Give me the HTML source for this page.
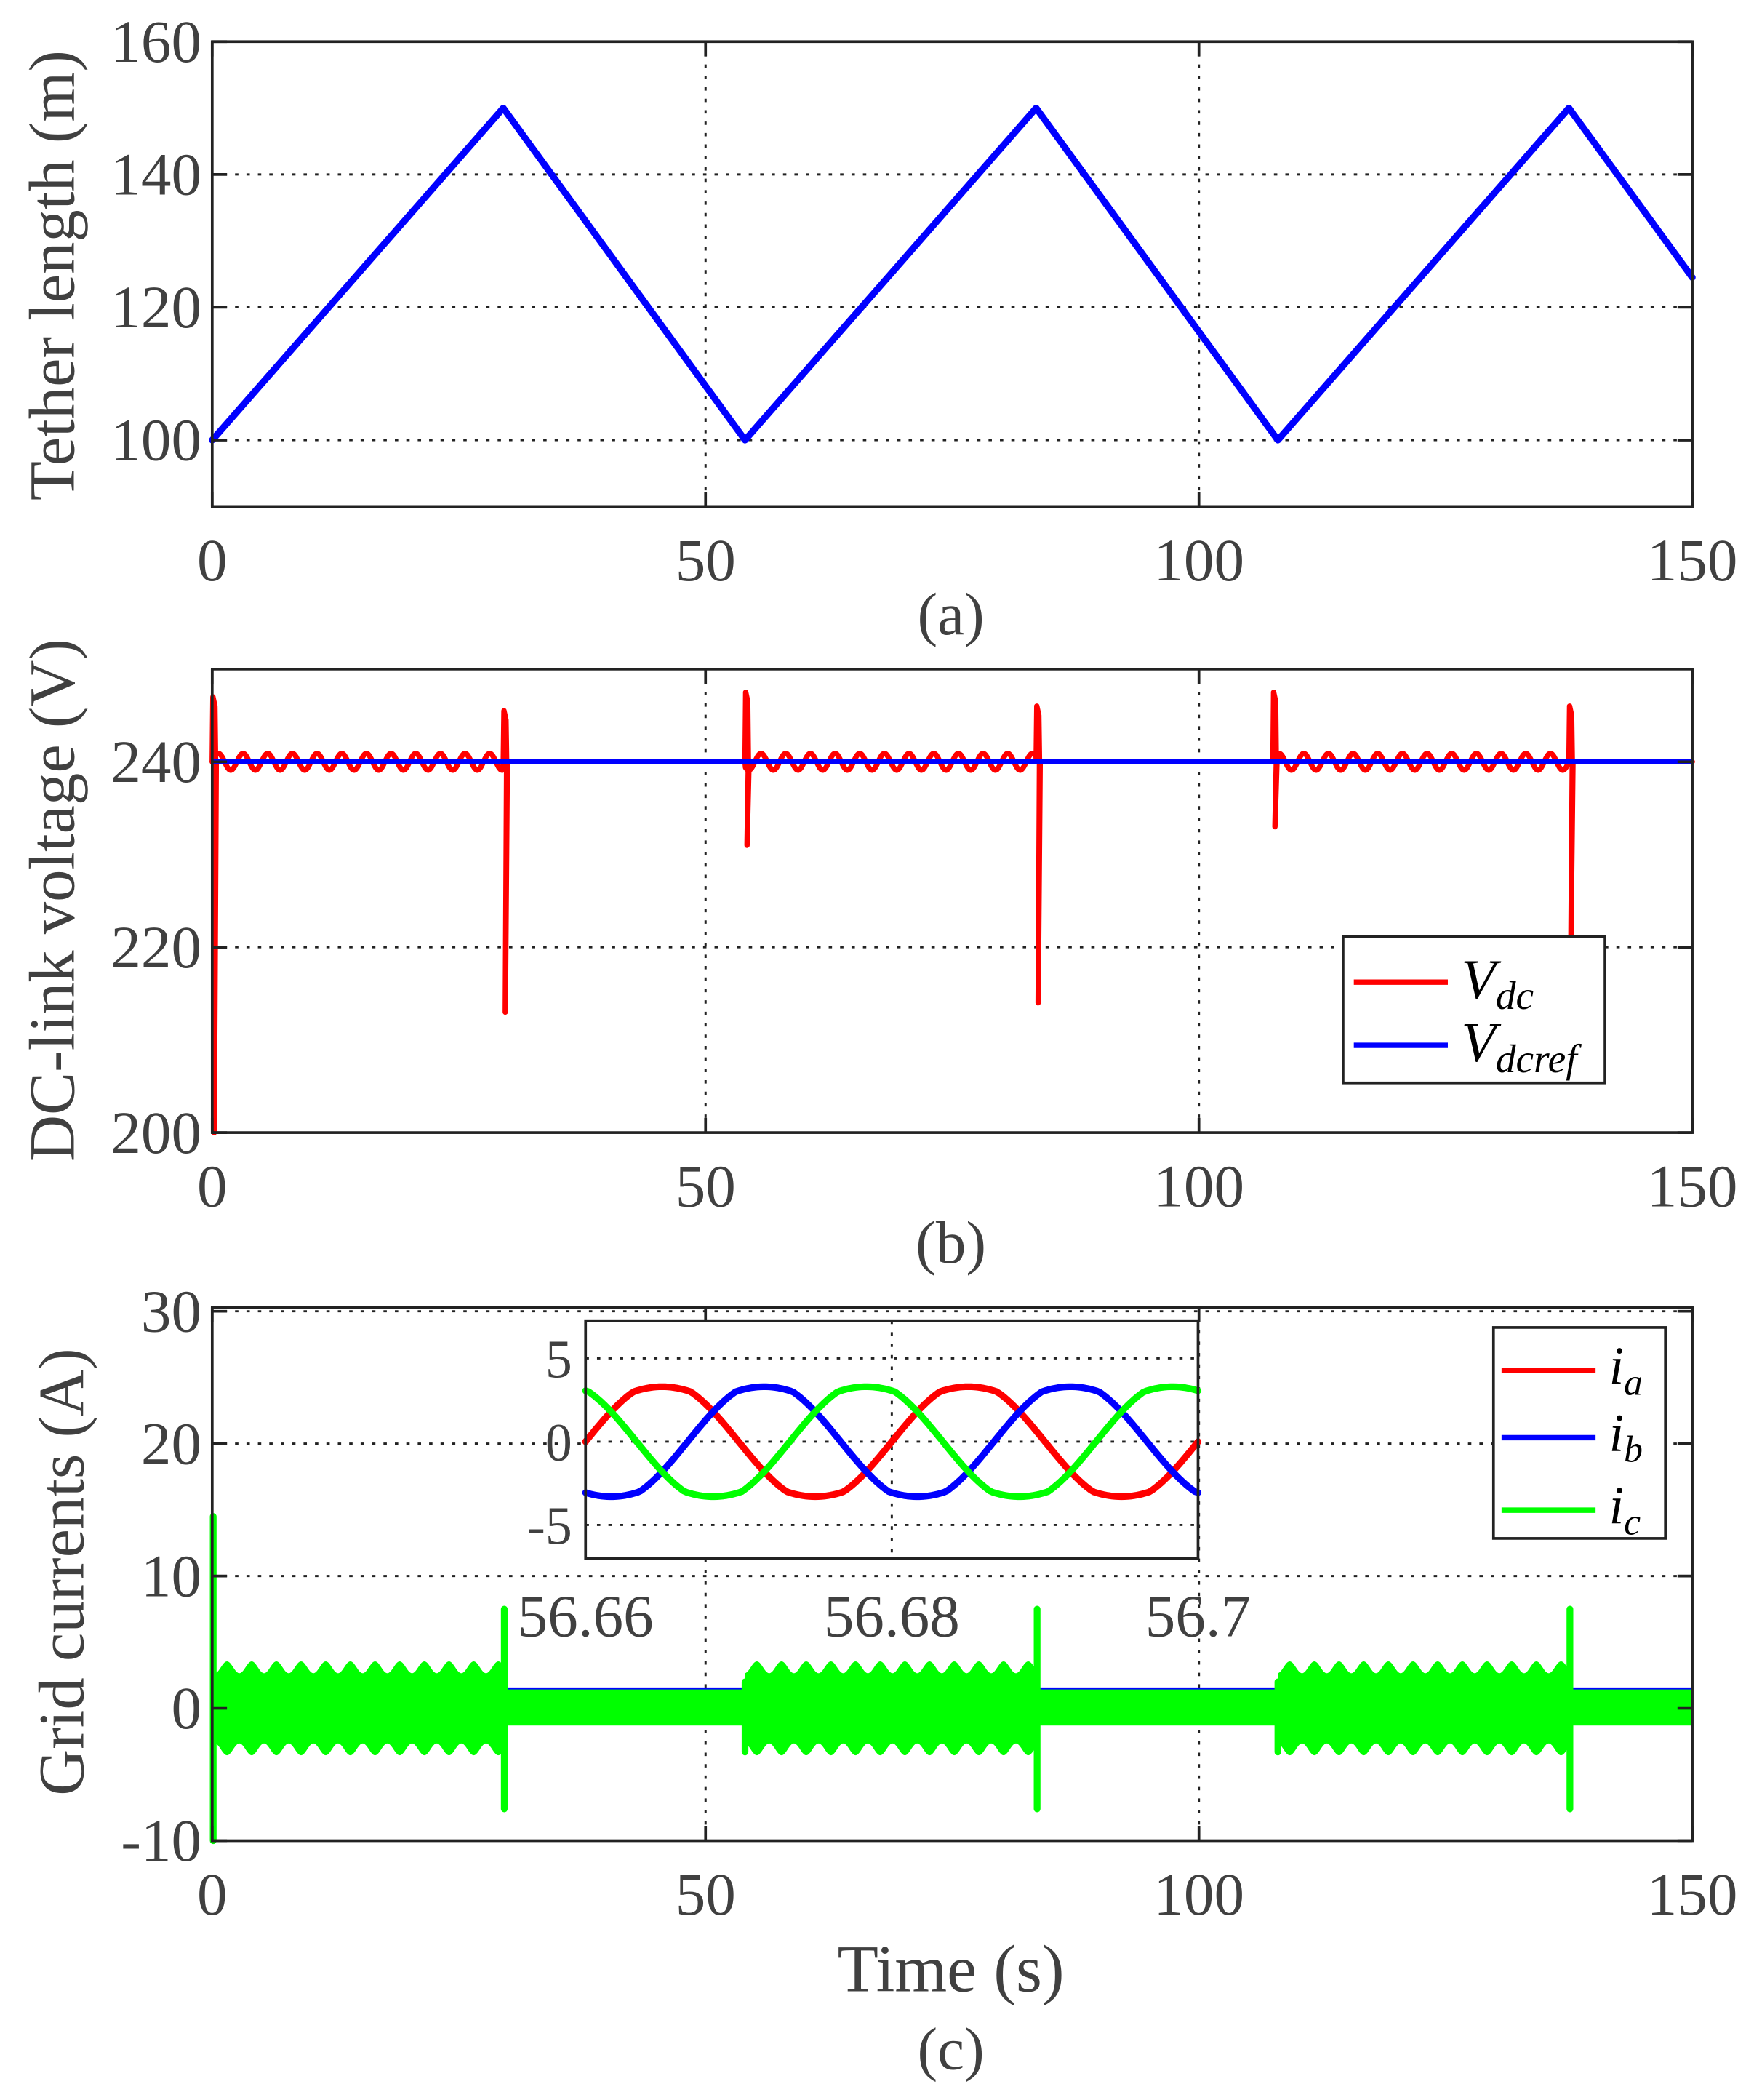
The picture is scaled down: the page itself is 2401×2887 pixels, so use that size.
<!DOCTYPE html>
<html><head><meta charset="utf-8"><style>
html,body{margin:0;padding:0;background:#fff;}
svg{display:block;}
text{font-family:"Liberation Serif",serif;fill:#404040;}
</style></head><body>
<svg id="s" width="2401" height="2887" viewBox="0 0 1300 1563" preserveAspectRatio="none" xmlns="http://www.w3.org/2000/svg">
<rect width="1300" height="1563" fill="#fff"/>
<g id="g"></g>
</svg>
<script>
var g=document.getElementById('g');var NS='http://www.w3.org/2000/svg';
function el(t,a,txt){var e=document.createElementNS(NS,t);for(var k in a)e.setAttribute(k,a[k]);if(txt!==undefined)e.textContent=txt;g.appendChild(e);return e;}
var L=158,R=1260;function X(t){return L+(R-L)*t/150;}
function axes(top,bot,y0,y1,yt){
  function Y(v){return bot-(v-y0)/(y1-y0)*(bot-top);}
  [50,100].forEach(function(t){el('line',{x1:X(t),x2:X(t),y1:top,y2:bot,stroke:'#222','stroke-width':1.6,'stroke-dasharray':'2.5 6'});});
  yt.forEach(function(v){if(Y(v)>top+1&&Y(v)<bot-1)el('line',{x1:L,x2:R,y1:Y(v),y2:Y(v),stroke:'#222','stroke-width':1.6,'stroke-dasharray':'2.5 6'});});
  return Y;
}
function frame(top,bot,yt,Y,ylab,lab,ly,yl,laby){
  el('rect',{x:L,y:top,width:R-L,height:bot-top,fill:'none',stroke:'#222','stroke-width':2});
  [0,50,100,150].forEach(function(t){el('line',{x1:X(t),x2:X(t),y1:bot,y2:bot-11,stroke:'#222','stroke-width':2});el('line',{x1:X(t),x2:X(t),y1:top,y2:top+11,stroke:'#222','stroke-width':2});
    el('text',{x:X(t),y:bot+55,'font-size':45,'text-anchor':'middle'},String(t));});
  yt.forEach(function(v){el('line',{x1:L,x2:L+11,y1:Y(v),y2:Y(v),stroke:'#222','stroke-width':2});el('line',{x1:R,x2:R-11,y1:Y(v),y2:Y(v),stroke:'#222','stroke-width':2});
    el('text',{x:L-8,y:Y(v)+15,'font-size':45,'text-anchor':'end'},String(v));});
  el('text',{x:0,y:0,'font-size':48,'text-anchor':'middle',transform:'translate('+yl+','+ly+') rotate(-90)'},ylab);
  el('text',{x:708,y:laby,'font-size':45,'text-anchor':'middle'},lab);
}
function path(pts,c,w){var d='M'+pts.map(function(p){return p[0].toFixed(2)+','+p[1].toFixed(2);}).join('L');el('path',{d:d,fill:'none',stroke:c,'stroke-width':w,'stroke-linejoin':'round','stroke-linecap':'round'});}
// ---- (a)
var Ya=axes(31,377,90,160,[100,120,140,160]);
var ka=[[0,100],[29.5,150],[54,100],[83.5,150],[108,100],[137.5,150],[150,124.5]];
var pa=[];for(var i=0;i<ka.length;i++){pa.push([X(ka[i][0]),Ya(ka[i][1])]);}
path(pa,'#0000ff',5);
frame(31,377,[100,120,140,160],Ya,'Tether length (m)','(a)',205,55,472);
// ---- (b)
var Yb=axes(498,843,200,250,[200,220,240]);
function act(t){return (t<29.5)||(t>54&&t<83.5)||(t>108&&t<137.5);}
var pb=[];
var sp=[[0,247,200],[29.5,245.5,213],[54,247.5,231],[83.5,246,214],[107.5,247.5,233],[137.5,246,221]];
for(var t=0;t<=150;t+=0.05){var v=240;if(act(t))v=240+0.9*Math.sin(2*Math.PI*t/2.5);pb.push([X(t),Yb(v)]);}
path(pb,'#ff0000',4);
sp.forEach(function(s){var t0=s[0];path([[X(t0),Yb(240)],[X(t0)+0.5,Yb(s[1])],[X(t0)+2,Yb(s[1]-1)],[X(t0)+2.5,Yb(240)],[X(t0)+1.5,Yb(s[2])],[X(t0)+3,Yb(240)]],'#ff0000',4);});
el('line',{x1:X(0),x2:X(150),y1:Yb(240),y2:Yb(240),stroke:'#0000ff','stroke-width':4});
frame(498,843,[200,220,240],Yb,'DC-link voltage (V)','(b)',670,55,940);
el('rect',{x:1000,y:697,width:195,height:109,fill:'#fff',stroke:'#222','stroke-width':2});
el('line',{x1:1008,x2:1078,y1:731,y2:731,stroke:'#ff0000','stroke-width':4});
el('line',{x1:1008,x2:1078,y1:778,y2:778,stroke:'#0000ff','stroke-width':4});
var t1=el('text',{x:1088,y:743,'font-size':42,'font-style':'italic',style:'fill:#000'});t1.innerHTML='V<tspan font-size="30" dy="8">dc</tspan>';
var t2=el('text',{x:1088,y:790,'font-size':42,'font-style':'italic',style:'fill:#000'});t2.innerHTML='V<tspan font-size="30" dy="8">dcref</tspan>';
// ---- (c)
var Yc=axes(973,1370,-10,30.3,[-10,0,10,20,30]);
[[29.8,54],[83.8,108],[137.8,150]].forEach(function(r){
  el('rect',{x:X(r[0]),y:Yc(1.5),width:X(r[1])-X(r[0]),height:Yc(-1.3)-Yc(1.5),fill:'#00ff00'});
  el('line',{x1:X(r[0]),x2:X(r[1]),y1:Yc(1.5),y2:Yc(1.5),stroke:'#0000ff','stroke-width':1.5});});
[[0.3,29.5],[54,83.5],[108,137.5]].forEach(function(r){
  var up=[],dn=[];for(var t=r[0];t<=r[1]+0.001;t+=0.1){var a=3.1+0.45*Math.cos(2*Math.PI*(t-r[0]-1.2)/2.5);up.push([X(t),Yc(a)]);dn.unshift([X(t),Yc(-a)]);}
  var d='M'+up.concat(dn).map(function(p){return p[0].toFixed(2)+','+p[1].toFixed(2);}).join('L')+'Z';
  el('path',{d:d,fill:'#00ff00'});});
[[0.1,14.5,-10],[29.6,7.5,-7.6],[83.6,7.5,-7.6],[137.6,7.5,-7.6],[54,2,-3.3],[108,2,-3.3]].forEach(function(s){
  el('line',{x1:X(s[0]),x2:X(s[0]),y1:Yc(s[1]),y2:Yc(s[2]),stroke:'#00ff00','stroke-width':5,'stroke-linecap':'round'});});
frame(973,1370,[-10,0,10,20,30],Yc,'Grid currents (A)','(c)',1170,62,1540);
el('text',{x:708,y:1482,'font-size':50,'text-anchor':'middle'},'Time (s)');
// inset
var iL=436,iR=892,iT=983,iB=1160;
function IX(t){return iL+(iR-iL)*t/0.04;}function IY(v){return 1073-v*12.4;}
el('rect',{x:iL,y:iT,width:iR-iL,height:iB-iT,fill:'#fff'});
[5,0,-5].forEach(function(v){el('line',{x1:iL,x2:iR,y1:IY(v),y2:IY(v),stroke:'#222','stroke-width':1.6,'stroke-dasharray':'2.5 6'});});
el('line',{x1:IX(0.02),x2:IX(0.02),y1:iT,y2:iB,stroke:'#222','stroke-width':1.6,'stroke-dasharray':'2.5 6'});
var cols=['#ff0000','#0000ff','#00ff00'],ph=[0,-2*Math.PI/3,2*Math.PI/3];
for(var k=0;k<3;k++){var p=[];for(var t=0;t<=0.04;t+=0.0002){var v=3.6*Math.sin(2*Math.PI*50*t+ph[k]);if(Math.abs(v)>3.0)v=Math.sign(v)*(3.0+(Math.abs(v)-3.0)*0.5);p.push([IX(t),IY(v)]);}path(p,cols[k],5);}
el('rect',{x:iL,y:iT,width:iR-iL,height:iB-iT,fill:'none',stroke:'#222','stroke-width':2});
[5,0,-5].forEach(function(v){el('text',{x:iL-10,y:IY(v)+14,'font-size':40,'text-anchor':'end'},String(v));});
[['56.66',0],['56.68',0.02],['56.7',0.04]].forEach(function(a){el('text',{x:IX(a[1]),y:1218,'font-size':45,'text-anchor':'middle'},a[0]);});
// legend c
el('rect',{x:1112,y:988,width:128,height:157,fill:'#fff',stroke:'#222','stroke-width':2});
[['a',1020],['b',1070],['c',1124]].forEach(function(e,i){el('line',{x1:1118,x2:1188,y1:e[1],y2:e[1],stroke:cols[i],'stroke-width':4});
  var tt=el('text',{x:1198,y:e[1]+10,'font-size':40,'font-style':'italic',style:'fill:#000'});tt.innerHTML='i<tspan font-size="28" dy="8">'+e[0]+'</tspan>';});
</script>
</body></html>
